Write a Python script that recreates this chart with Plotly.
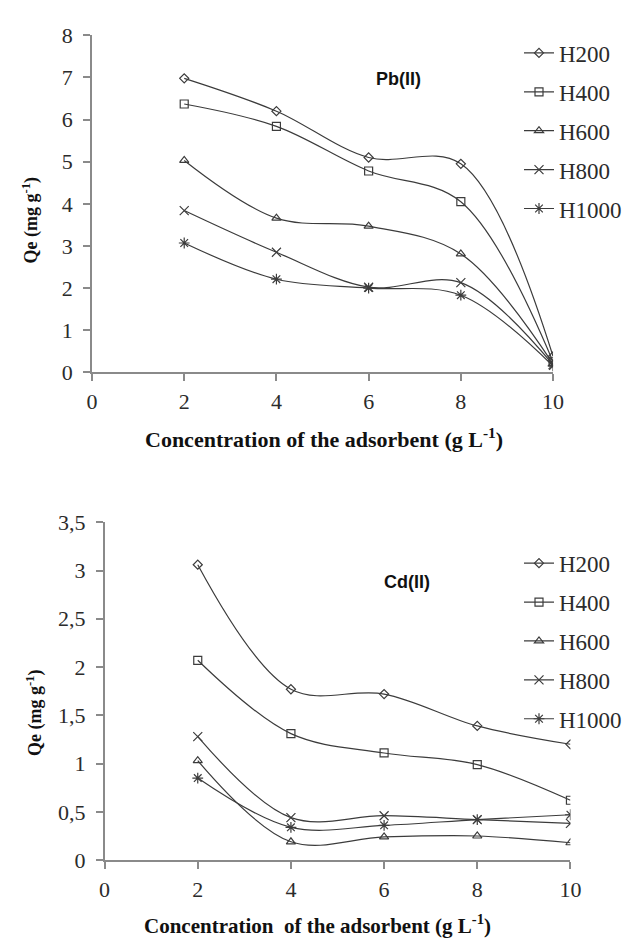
import plotly.graph_objects as go

# Adsorbent dose (g/L) shared by both panels
dose = [2, 4, 6, 8, 10]
series_names = ["H200", "H400", "H600", "H800", "H1000"]

# Pb(II) uptake, Qe (mg/g)
pb_h200 = [6.98, 6.20, 5.10, 4.95, 0.38]
pb_h400 = [6.37, 5.84, 4.78, 4.05, 0.25]
pb_h600 = [5.03, 3.66, 3.47, 2.81, 0.20]
pb_h800 = [3.84, 2.85, 2.02, 2.13, 0.18]
pb_h1000 = [3.07, 2.21, 2.00, 1.83, 0.15]

# Cd(II) uptake, Qe (mg/g)
cd_h200 = [3.06, 1.77, 1.72, 1.39, 1.20]
cd_h400 = [2.07, 1.31, 1.11, 0.99, 0.62]
cd_h600 = [1.03, 0.19, 0.24, 0.25, 0.18]
cd_h800 = [1.28, 0.44, 0.46, 0.42, 0.38]
cd_h1000 = [0.85, 0.34, 0.36, 0.42, 0.47]

pb_tickvals = [0, 1, 2, 3, 4, 5, 6, 7, 8]
cd_tickvals = [0, 0.5, 1, 1.5, 2, 2.5, 3, 3.5]
cd_ticktext = ["0", "0,5", "1", "1,5", "2", "2,5", "3", "3,5"]
x_tickvals = [0, 2, 4, 6, 8, 10]

symbols = ["diamond-open", "square-open", "triangle-up-open", "x-thin-open", "asterisk-open"]
msizes = [7, 8, 8, 9, 9]

LINE = "#3c3c3c"
AXIS = "#8a8a8a"
TEXT = "#2b2b2b"
SERIF = "Liberation Serif, Times New Roman, serif"
SANS = "Liberation Sans, Arial, sans-serif"

fig = go.Figure()

pb_sets = [pb_h200, pb_h400, pb_h600, pb_h800, pb_h1000]
cd_sets = [cd_h200, cd_h400, cd_h600, cd_h800, cd_h1000]

for i, (name, vals) in enumerate(zip(series_names, pb_sets)):
    fig.add_trace(go.Scatter(
        x=dose, y=vals, name=name, mode="lines+markers",
        line=dict(color=LINE, width=1.2, shape="spline", smoothing=1.0),
        marker=dict(symbol=symbols[i], size=msizes[i], color=LINE,
                    line=dict(color=LINE, width=1.2)),
        xaxis="x", yaxis="y", legend="legend", legendgroup="pb" + name,
    ))

for i, (name, vals) in enumerate(zip(series_names, cd_sets)):
    fig.add_trace(go.Scatter(
        x=dose, y=vals, name=name, mode="lines+markers",
        line=dict(color=LINE, width=1.2, shape="spline", smoothing=1.0),
        marker=dict(symbol=symbols[i], size=msizes[i], color=LINE,
                    line=dict(color=LINE, width=1.2)),
        xaxis="x2", yaxis="y2", legend="legend2", legendgroup="cd" + name,
    ))

W, H = 627, 952


def px_x(p):
    return p / W


def px_y(p):
    return 1 - p / H


axis_common = dict(
    showline=True, linecolor=AXIS, linewidth=1.5, ticks="outside",
    tickcolor=AXIS, ticklen=7, tickwidth=1.5, showgrid=False, zeroline=False,
    tickfont=dict(family=SERIF, size=22, color=TEXT), mirror=False,
)

legend_common = dict(
    font=dict(family=SERIF, size=23, color=TEXT), bgcolor="rgba(0,0,0,0)",
    xanchor="left", yanchor="top", tracegroupgap=6, itemwidth=30,
)


def label(text, x, y, size, family, angle=0):
    return dict(text=text, x=px_x(x), y=px_y(y), xref="paper", yref="paper",
                xanchor="center", yanchor="middle", showarrow=False, textangle=angle,
                font=dict(family=family, size=size, color="#111"))


fig.update_layout(
    width=W, height=H, margin=dict(l=0, r=0, t=0, b=0),
    paper_bgcolor="white", plot_bgcolor="white", showlegend=True,
    xaxis=dict(domain=[px_x(89), px_x(566)], range=[0, 10], tickvals=x_tickvals,
               anchor="y", ticklabelstandoff=2, **axis_common),
    yaxis=dict(domain=[px_y(370), px_y(24)], range=[0, 8], tickvals=pb_tickvals,
               anchor="x", ticklabelstandoff=6, **axis_common),
    xaxis2=dict(domain=[px_x(102), px_x(584)], range=[0, 10], tickvals=x_tickvals,
                anchor="y2", ticklabelstandoff=2, **axis_common),
    yaxis2=dict(domain=[px_y(871), px_y(524)], range=[0, 3.5], tickvals=cd_tickvals,
                ticktext=cd_ticktext, anchor="x2", ticklabelstandoff=6, **axis_common),
    legend=dict(x=px_x(531), y=px_y(20), **legend_common),
    legend2=dict(x=px_x(531), y=px_y(544), **legend_common),
    annotations=[
        label("<b>Pb(II)</b>", 406, 69, 18, SANS),
        label("<b>Cd(II)</b>", 415, 585, 18, SANS),
        label("<b>Concentration of the adsorbent (g L<sup>-1</sup>)</b>", 329, 438, 22, SERIF),
        label("<b>Concentration  of the adsorbent (g L<sup>-1</sup>)</b>", 322, 937, 21, SERIF),
        label("<b>Qe (mg g<sup>-1</sup>)</b>", 26, 214, 18, SERIF, -90),
        label("<b>Qe (mg g<sup>-1</sup>)</b>", 30, 720, 18, SERIF, -90),
    ],
)

fig.write_html("out.html")
